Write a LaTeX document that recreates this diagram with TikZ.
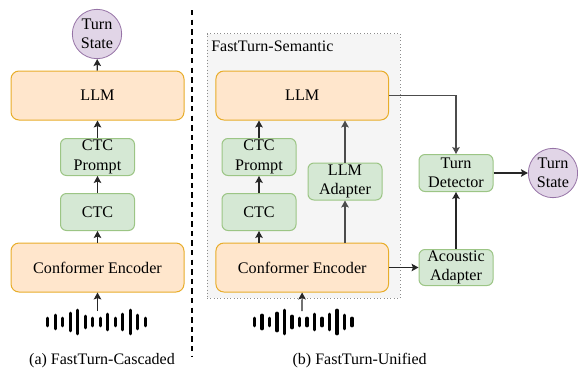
\documentclass[tikz,border=0pt]{standalone}
\usepackage{fontspec}
\setmainfont{Liberation Serif}
\usetikzlibrary{arrows.meta}
\definecolor{orF}{HTML}{FFE6CC}\definecolor{orD}{HTML}{E8AD2A}
\definecolor{grF}{HTML}{D5E8D4}\definecolor{grD}{HTML}{9CC585}
\definecolor{puF}{HTML}{E1D5E7}\definecolor{puD}{HTML}{9673A6}
\tikzset{x=0.75pt,y=-0.75pt,
 bigbox/.style={draw=orD,fill=orF,line width=0.75pt,rounded corners=6pt,inner sep=0pt,font=\fontsize{12.1pt}{14.6pt}\selectfont,align=center},
 smallbox/.style={draw=grD,fill=grF,line width=0.75pt,rounded corners=4.5pt,inner sep=0pt,font=\fontsize{12.1pt}{14.6pt}\selectfont,align=center},
 statecirc/.style={draw=puD,fill=puF,circle,line width=0.6pt,inner sep=0pt,font=\fontsize{12.1pt}{14.6pt}\selectfont,align=center,minimum size=37pt},
 conn/.style={draw=black!85,line width=0.85pt,-{Stealth[length=5.2pt,width=5.6pt,inset=1pt]}},
 thick conn/.style={conn,line width=1.2pt},
 wavebar/.style={line width=2.4pt,line cap=round,black},
 caption/.style={font=\fontsize{12pt}{14pt}\selectfont,inner sep=0pt}}
\newcommand{\wave}[1]{%
 \foreach \dx/\h in {0/3.8,7.5/6.8,15/3.8,22.5/8.8,30/11.8,37.5/5.8,45/3.8,52.5/3.8,60/7.8,67.5/3.8,75/7.8,82.5/11.8,90/6.8,97.5/3.8}
  \draw[wavebar] ([shift={(\dx,-\h)}]#1) -- ([shift={(\dx,\h)}]#1);}
\begin{document}
\begin{tikzpicture}
\useasboundingbox (0,0) rectangle (578,372);
% panel
\node[draw=black!45,dotted,fill=black!4,line width=0.5pt,minimum width=193*0.75pt,minimum height=264.5*0.75pt,inner sep=0pt] (panel) at (303.5,165.75) {};
\node[anchor=west,inner sep=0pt,font=\fontsize{12pt}{14pt}\selectfont] (paneltitle) at (211,46.5) {FastTurn-Semantic};
% divider
\coordinate (divT) at (192,10); \coordinate (divB) at (192,356);
\draw[black,line width=1.1pt,dash pattern=on 4pt off 3.2pt] (divT) -- (divB);
% left
\node[statecirc] (ls) at (97,34) {Turn\\State};
\node[bigbox,minimum width=129.75pt,minimum height=36.75pt] (lllm) at (97.5,95.5) {LLM};
\node[smallbox,minimum width=55.5pt,minimum height=27.75pt] (lprompt) at (97.5,157) {CTC\\Prompt};
\node[smallbox,minimum width=55.5pt,minimum height=27.75pt] (lctc) at (97.5,212) {CTC};
\node[bigbox,minimum width=129.75pt,minimum height=36.75pt] (lenc) at (97.5,267.5) {Conformer Encoder};
\coordinate (lw) at (47.7,322); \wave{lw}
\coordinate (lin) at (97.5,311);
\draw[conn] (lin) -- (lenc);
\draw[conn] (lenc) -- (lctc);
\draw[conn] (lctc) -- (lprompt);
\draw[conn] (lprompt) -- (lllm);
\draw[conn] (lllm) -- (ls);
% right
\node[bigbox,minimum width=129.5pt,minimum height=36.75pt] (rllm) at (302.25,95.5) {LLM};
\node[smallbox,minimum width=55.5pt,minimum height=27.75pt] (rprompt) at (259,157) {CTC\\Prompt};
\node[smallbox,minimum width=55.5pt,minimum height=27.75pt] (rctc) at (259,212) {CTC};
\node[smallbox,minimum width=55.5pt,minimum height=27.75pt] (radapt) at (345,181.5) {LLM\\Adapter};
\node[bigbox,minimum width=129.5pt,minimum height=36.75pt] (renc) at (302.25,267.5) {Conformer Encoder};
\node[smallbox,minimum width=55.5pt,minimum height=27pt] (aadapt) at (456,267.5) {Acoustic\\Adapter};
\node[smallbox,minimum width=55.5pt,minimum height=27.75pt] (det) at (456,173) {Turn\\Detector};
\node[statecirc] (rs) at (553,173) {Turn\\State};
\coordinate (rw) at (254.5,322); \wave{rw}
\coordinate (rin) at (302,311);
\draw[conn] (rin) -- (renc);
\draw[conn] (renc.north -| rctc) -- (rctc);
\draw[conn] (rctc) -- (rprompt);
\draw[conn] (rprompt) -- (rllm.south -| rprompt);
\draw[conn,draw=black!70] (renc.north -| radapt) -- (radapt);
\draw[conn,draw=black!70] (radapt) -- (rllm.south -| radapt);
\draw[conn] (renc) -- (aadapt);
\draw[conn,draw=black!70] (rllm.east) -| (det.north);
\draw[thick conn] (aadapt) -- (det);
\draw[thick conn] (det) -- (rs);
% captions
\node[caption] (capa) at (102,361) {(a) FastTurn-Cascaded};
\node[caption] (capb) at (359.7,361) {(b) FastTurn-Unified};
\end{tikzpicture}
\end{document}
